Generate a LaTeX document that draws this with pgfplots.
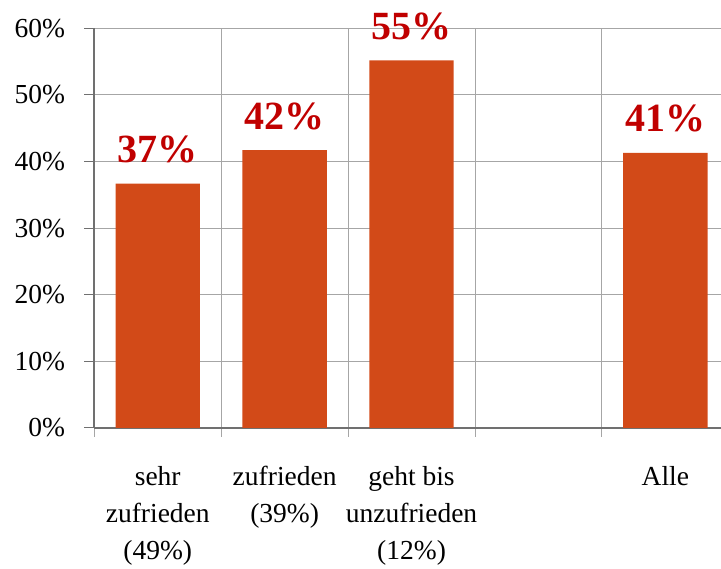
\documentclass[border=0pt]{standalone}
\usepackage{pgfplots}
\pgfplotsset{compat=1.18}
\usepackage{fontspec}
\setmainfont{Liberation Serif}
\definecolor{barcol}{RGB}{210,74,24}
\definecolor{lblcol}{RGB}{192,0,0}
\definecolor{gridcol}{RGB}{166,166,166}
\definecolor{axiscol}{RGB}{112,112,112}
\begin{document}
\begin{tikzpicture}
\begin{axis}[
scale only axis,
width=634.5pt,
height=399.7pt,
ybar,
bar width=84.3pt,
xmin=-0.5, xmax=4.5,
ymin=0, ymax=60,
axis x line*=bottom,
axis y line*=left,
axis line style={draw=axiscol, line width=1.6pt},
tick align=outside,
xtick={0,1,2,3,4},
xticklabels={{sehr\\zufrieden\\(49\%)},{zufrieden\\(39\%)},{geht bis\\unzufrieden\\(12\%)},{},{Alle}},
major x tick style={draw=none},
minor xtick={-0.5,0.5,1.5,2.5,3.5,4.5},
minor x grid style={draw=gridcol, line width=1pt},
minor tick length=9pt,
minor x tick style={draw=gridcol, line width=1pt},
xminorgrids=true,
ytick={0,10,...,60},
yticklabel={\pgfmathprintnumber{\tick}\%},
ymajorgrids=true,
major y grid style={draw=gridcol, line width=1pt},
major tick length=10pt,
ytick style={draw=axiscol, line width=1pt},
/pgf/number format/assume math mode=true,
tick label style={font=\fontsize{27.5}{37}\selectfont},
xticklabel style={align=center, anchor=north, inner sep=0pt, yshift=-28pt},
yticklabel style={inner sep=0pt, xshift=-19pt},
nodes near coords={\pgfmathprintnumber[fixed,precision=0]{\pgfplotspointmeta}\%},
nodes near coords style={font=\fontsize{40}{40}\selectfont\bfseries, text=lblcol, anchor=base, inner sep=0pt, yshift=21pt},
clip=false,
]
\addplot[fill=barcol, draw=none] coordinates {(0,36.7) (1,41.7) (2,55.2) (4,41.3)};
\end{axis}
\pgfresetboundingbox
\path[use as bounding box] (-94.3pt,-141pt) rectangle (626.7pt,428pt);
\end{tikzpicture}
\end{document}
